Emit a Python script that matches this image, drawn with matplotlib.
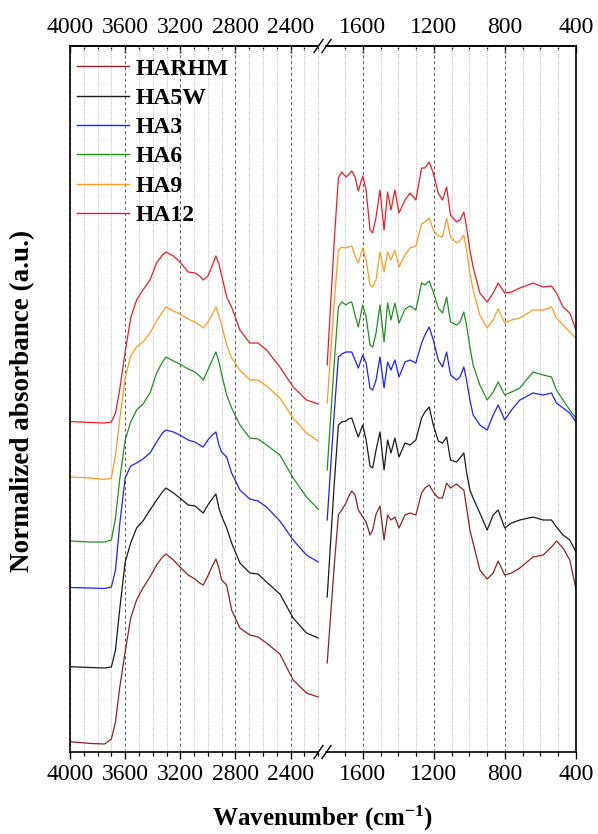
import numpy as np
import matplotlib
matplotlib.use("Agg")
import matplotlib.pyplot as plt
from matplotlib.lines import Line2D
from matplotlib.font_manager import FontProperties

plt.rcParams["font.family"] = ["Liberation Serif", "DejaVu Serif"]
plt.rcParams["mathtext.fontset"] = "custom"
plt.rcParams["mathtext.rm"] = "Liberation Serif:bold"
plt.rcParams["mathtext.it"] = "Liberation Serif:italic:bold"
plt.rcParams["mathtext.bf"] = "Liberation Serif:bold"

# ---------------- data ----------------
labels = ["HARHM", "HA5W", "HA3", "HA6", "HA9", "HA12"]
colors = ["#8B2323", "#1a1a1a", "#1f1fff", "#1f8f1f", "#ff9a1f", "#ee1c25"]

# high-wavenumber region (cm-1)
wn_high = [4000, 3850, 3750, 3700, 3670, 3640, 3600, 3560, 3517, 3471,
           3420, 3372, 3330, 3304, 3250, 3203, 3143, 3094, 3060, 3034,
           3000, 2975, 2942, 2920, 2901, 2864, 2828, 2768, 2696, 2636,
           2575, 2478, 2382, 2285, 2201]

harhm_high = [0.103, 0.085, 0.08, 0.13, 0.30, 0.64, 1.00, 1.34, 1.52, 1.64,
              1.75, 1.87, 1.95, 1.98, 1.92, 1.85, 1.77, 1.73, 1.69, 1.67,
              1.76, 1.84, 1.93, 1.84, 1.72, 1.67, 1.42, 1.24, 1.17, 1.15,
              1.09, 0.98, 0.72, 0.59, 0.55]
ha5w_high = [0.853, 0.845, 0.84, 0.85, 1.02, 1.42, 1.90, 2.09, 2.24, 2.31,
             2.42, 2.52, 2.60, 2.64, 2.59, 2.54, 2.47, 2.46, 2.42, 2.39,
             2.47, 2.52, 2.58, 2.44, 2.36, 2.24, 2.09, 1.89, 1.79, 1.78,
             1.70, 1.58, 1.34, 1.19, 1.14]
ha3_high = [1.645, 1.64, 1.635, 1.65, 1.82, 2.27, 2.74, 2.86, 2.89, 2.93,
            2.99, 3.10, 3.19, 3.22, 3.20, 3.17, 3.12, 3.10, 3.07, 3.05,
            3.12, 3.16, 3.20, 3.07, 3.00, 2.95, 2.79, 2.62, 2.53, 2.51,
            2.45, 2.31, 2.12, 1.97, 1.90]
ha6_high = [2.11, 2.10, 2.10, 2.12, 2.34, 2.72, 3.12, 3.30, 3.42, 3.48,
            3.59, 3.79, 3.90, 3.95, 3.91, 3.88, 3.83, 3.80, 3.76, 3.72,
            3.82, 3.90, 4.00, 3.90, 3.78, 3.57, 3.44, 3.27, 3.14, 3.13,
            3.07, 2.97, 2.74, 2.55, 2.43]
ha9_high = [2.75, 2.74, 2.725, 2.74, 2.97, 3.32, 3.74, 3.96, 4.05, 4.10,
            4.19, 4.31, 4.40, 4.45, 4.41, 4.38, 4.33, 4.30, 4.27, 4.24,
            4.30, 4.36, 4.45, 4.36, 4.27, 4.07, 3.94, 3.82, 3.72, 3.72,
            3.66, 3.54, 3.34, 3.19, 3.11]
ha12_high = [3.305, 3.295, 3.29, 3.30, 3.39, 3.62, 4.00, 4.34, 4.52, 4.62,
             4.72, 4.89, 4.97, 5.00, 4.96, 4.90, 4.80, 4.79, 4.76, 4.72,
             4.76, 4.84, 4.96, 4.88, 4.77, 4.55, 4.45, 4.22, 4.09, 4.09,
             4.02, 3.85, 3.65, 3.52, 3.48]

# fingerprint region (cm-1)
wn_low = [1800, 1760, 1737, 1718, 1694, 1681, 1662, 1643, 1625, 1600,
          1581, 1559, 1544, 1525, 1503, 1480, 1460, 1441, 1419, 1396,
          1362, 1334, 1301, 1269, 1250, 1226, 1203, 1175, 1151, 1128,
          1106, 1072, 1053, 1031, 1016, 997, 979, 941, 900, 866,
          838, 801, 763, 716, 642, 585, 538, 510, 473, 435,
          400]

harhm_low = [0.89, 1.87, 2.37, 2.42, 2.49, 2.55, 2.61, 2.57, 2.42, 2.35,
             2.30, 2.17, 2.22, 2.38, 2.46, 2.12, 2.37, 2.32, 2.35, 2.24,
             2.37, 2.39, 2.37, 2.59, 2.64, 2.67, 2.60, 2.54, 2.54, 2.69,
             2.64, 2.68, 2.65, 2.62, 2.45, 2.22, 2.09, 1.82, 1.73, 1.79,
             1.91, 1.77, 1.79, 1.84, 1.95, 1.97, 2.05, 2.11, 2.04, 1.92,
             1.63]
ha5w_low = [1.55, 2.69, 3.27, 3.30, 3.31, 3.33, 3.34, 3.24, 3.15, 3.27,
            3.12, 2.86, 2.84, 3.02, 3.20, 2.82, 3.12, 2.99, 3.14, 2.95,
            3.09, 3.07, 3.12, 3.34, 3.40, 3.45, 3.27, 3.11, 3.09, 3.15,
            2.92, 2.90, 2.94, 2.99, 2.80, 2.62, 2.54, 2.39, 2.22, 2.37,
            2.42, 2.24, 2.29, 2.32, 2.35, 2.32, 2.32, 2.25, 2.17, 2.12,
            2.00]
ha3_low = [2.32, 3.40, 3.95, 3.98, 4.00, 4.00, 4.00, 3.92, 3.84, 3.97,
           3.89, 3.64, 3.62, 3.72, 3.95, 3.64, 3.90, 3.82, 3.92, 3.75,
           3.90, 3.92, 3.89, 4.09, 4.17, 4.25, 4.12, 3.92, 3.85, 4.00,
           3.77, 3.72, 3.75, 3.85, 3.72, 3.52, 3.37, 3.27, 3.22, 3.37,
           3.47, 3.32, 3.42, 3.52, 3.59, 3.57, 3.59, 3.49, 3.44, 3.39,
           3.30]
ha6_low = [2.82, 3.90, 4.45, 4.50, 4.47, 4.49, 4.50, 4.37, 4.25, 4.47,
           4.35, 4.07, 4.05, 4.19, 4.47, 4.10, 4.49, 4.32, 4.49, 4.29,
           4.43, 4.46, 4.42, 4.69, 4.67, 4.71, 4.60, 4.44, 4.39, 4.55,
           4.30, 4.27, 4.30, 4.40, 4.27, 4.05, 3.87, 3.67, 3.52, 3.60,
           3.70, 3.57, 3.60, 3.64, 3.80, 3.77, 3.75, 3.62, 3.52, 3.42,
           3.34]
ha9_low = [3.49, 4.50, 5.02, 5.05, 5.04, 5.05, 5.06, 4.96, 4.89, 5.04,
           4.92, 4.67, 4.65, 4.72, 5.00, 4.80, 5.00, 4.92, 5.02, 4.85,
           4.97, 5.04, 5.06, 5.28, 5.30, 5.34, 5.22, 5.16, 5.15, 5.34,
           5.15, 5.09, 5.11, 5.17, 5.02, 4.79, 4.62, 4.37, 4.24, 4.32,
           4.43, 4.29, 4.32, 4.34, 4.42, 4.42, 4.45, 4.34, 4.27, 4.20,
           4.14]
ha12_low = [3.87, 5.12, 5.74, 5.80, 5.75, 5.77, 5.81, 5.75, 5.61, 5.76,
            5.62, 5.22, 5.19, 5.35, 5.62, 5.22, 5.60, 5.42, 5.62, 5.39,
            5.52, 5.59, 5.52, 5.84, 5.84, 5.90, 5.79, 5.59, 5.52, 5.65,
            5.37, 5.30, 5.32, 5.40, 5.25, 5.02, 4.85, 4.59, 4.50, 4.59,
            4.69, 4.59, 4.60, 4.64, 4.69, 4.65, 4.66, 4.59, 4.45, 4.39,
            4.22]

high_series = [harhm_high, ha5w_high, ha3_high, ha6_high, ha9_high, ha12_high]
low_series = [harhm_low, ha5w_low, ha3_low, ha6_low, ha9_low, ha12_low]

high_major = [4000, 3600, 3200, 2800, 2400]
low_major = [1600, 1200, 800, 400]

# ---------------- figure ----------------
W, H = 598, 834
fig = plt.figure(figsize=(W / 100, H / 100), dpi=100)

def frac(x0, y0, x1, y1):
    return [x0 / W, 1 - y1 / H, (x1 - x0) / W, (y1 - y0) / H]

ax1 = fig.add_axes(frac(70, 46, 318.5, 752))
ax2 = fig.add_axes(frac(326.3, 46, 576, 752))

tick_font = 17
lw_spine = 1.2

for ax, wn, series, xlim, major, minor in [
    (ax1, wn_high, high_series, (4000, 2198), high_major, np.arange(4000, 2199, -100)),
    (ax2, wn_low, low_series, (1805, 400), low_major, np.arange(1700, 399, -100)),
]:
    for y, c, lab in zip(series, colors, labels):
        ax.plot(wn, y, color=c, lw=0.9, label=lab)
    ax.set_xlim(*xlim)
    ax.set_ylim(0, 7.06)
    ax.set_yticks([])
    ax.set_xticks(major)
    ax.set_xticks(minor, minor=True)
    ax.grid(which="major", axis="x", color="#555555", lw=0.7, ls=(0, (3, 3)))
    ax.grid(which="minor", axis="x", color="#c4c4c4", lw=0.7, ls=(0, (1.2, 1.2)))
    ax.tick_params(axis="x", which="major", direction="out", length=5, width=1.0,
                   labelsize=tick_font, pad=4)
    ax.tick_params(axis="x", which="minor", direction="out", length=3, width=0.9)
    for s in ax.spines.values():
        s.set_linewidth(lw_spine)
    top = ax.secondary_xaxis("top")
    top.set_xticks(major)
    top.set_xticks(minor, minor=True)
    top.tick_params(axis="x", which="major", direction="in", length=5, width=1.0,
                    labelsize=tick_font, pad=6)
    top.tick_params(axis="x", which="minor", direction="in", length=3, width=0.9)
    top.spines["top"].set_linewidth(lw_spine)

ax1.spines["right"].set_visible(False)
ax2.spines["left"].set_visible(False)

# axis-break marks
for yc in (46, 752):
    for xc in (318.5, 326.5):
        fig.add_artist(Line2D([(xc - 4.5) / W, (xc + 4.5) / W],
                              [1 - (yc + 6.5) / H, 1 - (yc - 6.5) / H],
                              transform=fig.transFigure, color="k", lw=1.0))

# legend
leg = ax1.legend(loc="upper left", bbox_to_anchor=(77 / W, 1 - 58 / H),
                 bbox_transform=fig.transFigure, frameon=False,
                 prop=FontProperties(family="Liberation Serif", weight="bold", size=17),
                 handlelength=2.2, handletextpad=0.3, labelspacing=0.33,
                 borderpad=0, borderaxespad=0)
for h in leg.get_lines():
    h.set_linewidth(1.0)

fig.text(323 / W, 1 - 826 / H, r"Wavenumber (cm$^{\mathbf{-1}}$)", ha="center",
         va="baseline", fontsize=18, fontweight="bold")
fig.text(23 / W, 1 - 401 / H, "Normalized absorbance (a.u.)", ha="center", va="center",
         rotation=90, fontsize=19.5, fontweight="bold")

fig.savefig("out.png", dpi=100)
